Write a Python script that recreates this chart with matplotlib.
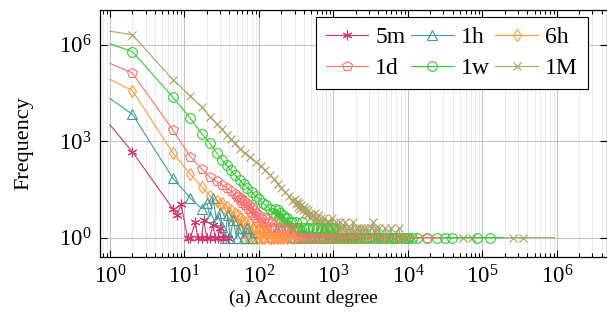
import numpy as np
import matplotlib
matplotlib.use("Agg")
import matplotlib.pyplot as plt
from matplotlib.ticker import LogLocator, FixedLocator, NullLocator, NullFormatter

plt.rcParams['font.family'] = ['Liberation Serif', 'DejaVu Serif']
plt.rcParams['mathtext.fontset'] = 'stix'

# degree -> frequency
labels = ["5m", "1h", "6h", "1d", "1w", "1M"]
xticks = [1, 10, 100, 1e3, 1e4, 1e5, 1e6]
yticks = [1, 1e3, 1e6]

deg_5m = [1, 2, 7, 8, 9, 11, 12, 14, 15, 17, 18, 20, 22, 24, 26, 28, 30, 33, 38, 44]
freq_5m = [3200, 460, 7.8, 5, 11, 1, 1, 3, 1, 1, 3.5, 1, 1, 2.5, 1, 1, 2, 1, 1, 1]

deg_1h = [1, 2, 7, 12, 17, 20, 22, 24, 27, 30, 32, 35, 38, 41, 45, 50, 55, 62, 70, 80, 93]
freq_1h = [2.1e4, 6.8e3, 70, 17, 8, 12, 4.5, 17, 3.5, 6, 2.2, 1, 5, 1, 3.5, 1, 2, 1, 2, 1, 1]

deg_6h = [1, 2, 7, 12, 17, 22, 27, 30, 32, 35, 37, 40, 42, 45, 47, 50, 52, 55, 57,
          60, 62, 65, 68, 71, 75, 78, 82, 86, 90, 95, 100, 105, 110, 118, 125, 135,
          145, 160, 175, 190, 210, 240, 290, 380]
freq_6h = [8.3e4, 3.7e4, 420, 95, 38, 20, 14, 11, 12, 8, 9, 6, 7, 4, 6, 3, 5, 2, 4,
           3, 1, 3, 2, 1, 3, 1, 2, 1, 2, 1, 1, 2, 1, 1, 2, 1,
           1, 1, 1, 1, 1, 1, 1, 1]

deg_1d = [1, 2, 7, 12, 17, 22, 27, 32, 37, 42, 47, 50, 52, 55, 57, 60, 62, 65, 68,
          71, 74, 77, 80, 83, 86, 89, 92, 96, 100, 104, 108, 112, 116, 120, 125,
          130, 135, 140, 145, 150, 158, 165, 172, 180, 190, 200, 210, 220, 235, 250,
          265, 280, 300, 320, 345, 370, 400, 440, 480, 530, 600, 700, 800, 900, 1100,
          1300, 1600, 2000, 2600, 3500, 5000, 8000, 18000, 29500]
freq_1d = [2.6e5, 1.3e5, 2.2e3, 330, 135, 75, 56, 44, 35, 28, 22, 18, 20, 15, 17, 12, 14, 10, 12,
           8, 10, 6, 9, 5, 7, 4, 6, 3, 5, 2, 4, 3, 1, 4, 2,
           3, 1, 3, 2, 1, 2, 1, 3, 1, 2, 1, 2, 1, 1, 2,
           1, 1, 2, 1, 1, 1, 1, 1, 1, 1, 1, 1, 1, 1, 1,
           1, 1, 1, 1, 1, 1, 1, 1, 1]

deg_1w = [1, 2, 7, 12, 17, 22, 27, 32, 37, 42, 47, 55, 62, 70, 80, 90, 100, 112, 125,
          140, 156, 163, 170, 178, 185, 193, 200, 208, 215, 222, 230, 240, 250, 260,
          270, 280, 290, 300, 310, 322, 335, 348, 360, 375, 390, 405, 420, 435, 450,
          470, 490, 510, 530, 555, 580, 605, 630, 660, 690, 720, 750, 790, 820, 860,
          900, 950, 1000, 1050, 1100, 1170, 1250, 1320, 1400, 1500, 1600, 1700, 1800,
          1950, 2100, 2300, 2500, 2750, 3000, 3300, 3600, 4000, 4400, 4800, 5300, 5900,
          6500, 7200, 8000, 9000, 10000, 11500, 13200, 18200, 24500, 31600, 38900,
          85000, 126000, 190000]
freq_1w = [1.05e6, 6.0e5, 2.3e4, 5.1e3, 1.7e3, 850, 430, 260, 180, 125, 90, 62, 45, 36, 26, 20, 16, 12, 10,
           8, 6, 8, 5, 7, 4, 6, 3, 5, 3, 4, 2, 4, 2, 3,
           1, 3, 2, 1, 3, 2, 1, 2, 1, 3, 1, 2, 1, 2, 1,
           2, 1, 1, 2, 1, 1, 2, 1, 1, 2, 1, 1, 1, 2, 1,
           1, 1, 2, 1, 1, 1, 1, 1, 1, 1, 1, 1, 1,
           1, 1, 1, 1, 1, 1, 1, 1, 1, 1, 1, 1, 1,
           1, 1, 1, 1, 1, 1, 1, 1, 1, 1, 1,
           1, 1, 1]

deg_1M = [1, 2, 7, 12, 17, 22, 27, 32, 37, 42, 47, 55, 65, 75, 90, 105, 120, 140, 160,
          180, 200, 225, 250, 280, 300, 310, 320, 330, 345, 355, 370, 385, 400, 415,
          430, 445, 460, 480, 500, 520, 540, 560, 580, 600, 620, 645, 670, 695, 720,
          750, 780, 810, 850, 880, 920, 960, 1000, 1040, 1080, 1130, 1170, 1220, 1260,
          1310, 1360, 1420, 1480, 1540, 1600, 1680, 1750, 1820, 1900, 1980, 2050, 2150,
          2250, 2350, 2450, 2580, 2700, 2850, 3000, 3200, 3400, 3550, 3700, 3900, 4100,
          4350, 4600, 4900, 5300, 5600, 5900, 6300, 6800, 7500, 8000, 8500, 9200, 10000,
          11700, 55000, 72000, 257000, 347000, 930000]
freq_1M = [2.6e6, 2.0e6, 8.0e4, 2.5e4, 1.15e4, 5.8e3, 3.5e3, 2.3e3, 1.6e3, 1.15e3, 850, 580, 420, 320, 230, 170, 125, 90, 65,
           48, 36, 26, 20, 14, 16, 11, 13, 9, 12, 8, 10, 7, 9, 6,
           8, 5, 7, 4, 6, 5, 3, 6, 4, 3, 5, 2, 4, 3, 2,
           4, 2, 3, 1, 3, 2, 4, 2, 1, 3, 2, 1, 3, 2,
           1, 2, 3, 1, 2, 1, 2, 1, 3, 1, 2, 1, 2,
           1, 2, 1, 2, 1, 2, 1, 2, 3, 1, 2, 1, 2,
           1, 1, 2, 1, 1, 2, 1, 1, 2, 1, 1, 1, 1,
           1, 1, 1, 1, 1, 1]

degs = [deg_5m, deg_1h, deg_6h, deg_1d, deg_1w, deg_1M]
freqs = [freq_5m, freq_1h, freq_6h, freq_1d, freq_1w, freq_1M]
colors = ["#d0376e", "#3b9ea3", "#ff9a3c", "#ff7070", "#33cc33", "#aca266"]
markers = [(6, 2, 0), "^", "d", "p", "o", "x"]
msizes = [7, 6.5, 6, 7, 7, 5.5]

fig = plt.figure(figsize=(6.07, 3.29), dpi=100)
ax = fig.add_axes([100/607, 1 - 257/329, 507/607, 247/329])

handles = []
for i in range(len(labels)):
    h, = ax.plot(degs[i], freqs[i], color=colors[i], lw=0.8, marker=markers[i],
                 ms=msizes[i], mfc='none', mec=colors[i], mew=0.8,
                 markevery=slice(1, -1), label=labels[i], zorder=10 - i)
    handles.append(h)

ax.set_xscale('log')
ax.set_yscale('log')
ax.set_xlim(0.734, 4.7e6)
ax.set_ylim(0.251, 1.18e7)

ax.xaxis.set_major_locator(FixedLocator(xticks))
ax.xaxis.set_minor_locator(LogLocator(base=10, subs=np.arange(2, 10), numticks=100))
ax.xaxis.set_minor_formatter(NullFormatter())
ax.yaxis.set_major_locator(FixedLocator(yticks))
ax.yaxis.set_minor_locator(NullLocator())

ax.grid(True, which='major', color='#c4c4c4', lw=0.8, zorder=0)
ax.grid(True, which='minor', axis='x', color='#ebebeb', lw=0.7, zorder=0)
ax.set_axisbelow(True)

ax.tick_params(which='both', direction='in', top=True, right=True, labelsize=16.5, width=0.8)
ax.tick_params(which='major', length=5, pad=6)
ax.tick_params(which='minor', length=3)
for s in ax.spines.values():
    s.set_linewidth(0.9)

# legend rows: 5m 1h 6h / 1d 1w 1M  (matplotlib fills columns first)
order = [0, 3, 1, 4, 2, 5]
leg = ax.legend([handles[k] for k in order], [labels[k] for k in order], ncol=3,
                loc='upper right', bbox_to_anchor=(0.962, 0.972), borderaxespad=0,
                fontsize=17, handlelength=1.8, handletextpad=0.3, columnspacing=0.25,
                labelspacing=0.38, borderpad=0.42, numpoints=1, fancybox=False,
                framealpha=1, edgecolor='black')
leg.get_frame().set_linewidth(0.8)

fig.text(24/607, 1 - 143/329, "Frequency", rotation=90, ha='center', va='center', fontsize=16)
fig.text(303/607, 1 - 298/329, "(a) Account degree", ha='center', va='center', fontsize=14)

fig.savefig("out.png", dpi=100)
